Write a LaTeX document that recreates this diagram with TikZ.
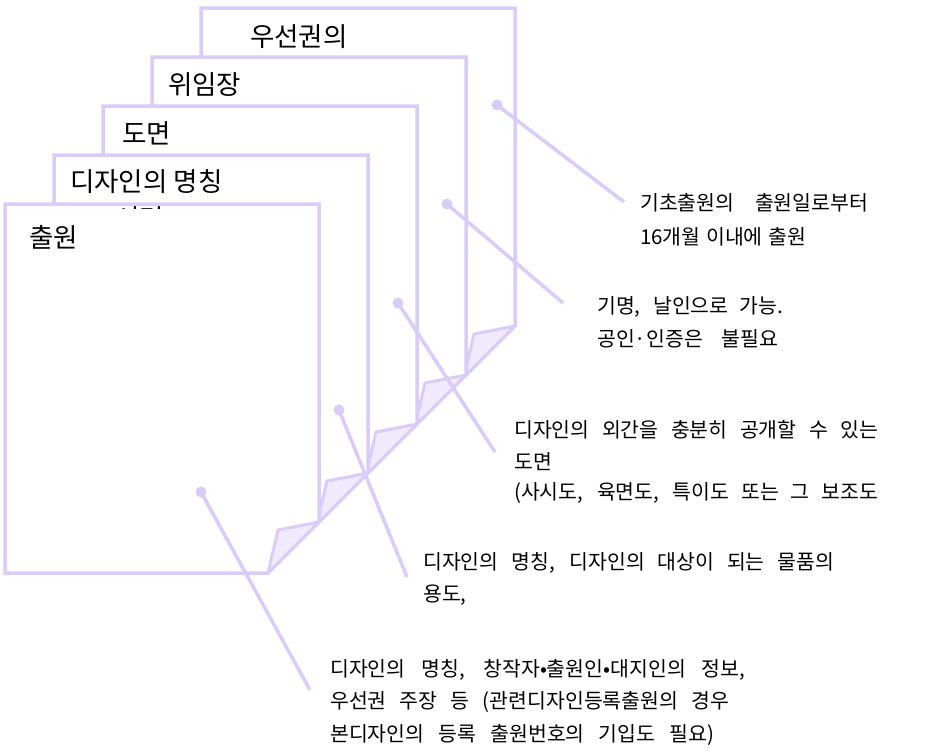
\documentclass[tikz,border=0pt]{standalone}
\usepackage{fontspec}
\setmainfont{Noto Sans CJK KR}
\definecolor{lav}{RGB}{218,204,248}
\definecolor{flapc}{RGB}{240,234,252}
\newcommand\docpage[2]{%
  \path[pagebox] (#1,#2) -- ++(314,0) -- ++(0,318) -- ++(-51,51) -- ++(-263,0) -- cycle;
  \path[flapbox] (#1+314,#2+318) -- ++(-41,8) -- ++(-10,43) -- cycle;
}
\newcommand\wl[2]{\makebox[#1pt][s]{#2}}
\begin{document}
\begin{tikzpicture}[x=1pt,y=-1pt,
  pagebox/.style={draw=lav,line width=3.5pt,fill=white,line join=miter},
  flapbox/.style={draw=lav,line width=3pt,fill=flapc,line join=round},
  callout/.style={draw=lav,line width=3.5pt},
  dotmark/.style={fill=lav},
  plabel/.style={anchor=base west,inner sep=0pt,font=\fontsize{26.5}{30}\selectfont},
  note/.style={anchor=base west,inner sep=0pt,font=\fontsize{20.5}{24}\selectfont}]
\useasboundingbox (0,0) rectangle (937,753);
\fill[white] (0,0) rectangle (937,753);

% pages, back to front
\docpage{201}{8}
\node[plabel] (p5) at (250,46) {우선권의};
\docpage{152}{57}
\node[plabel] (p4) at (168,94) {위임장};
\docpage{103}{106}
\node[plabel] (p3) at (122,143) {도면};
\docpage{54}{155}
\node[plabel] (p2) at (70,191) {디자인의 명칭};
\docpage{5}{204}
\node[plabel] (p1) at (29,247) {출원};
\begin{scope}
  \clip (110,206) rectangle (170,208.5);
  \node[plabel] (p2b) at (115,228.5) {서면};
\end{scope}

% callout notes
\node[note] (n1a) at (640,210) {\wl{228}{기초출원의 출원일로부터}};
\node[note] (n1b) at (640,244) {\wl{166}{16개월 이내에 출원}};
\node[note] (n2a) at (597,313) {\wl{186}{기명, 날인으로 가능.}};
\node[note] (n2b) at (597,346) {\wl{181}{공인·인증은 불필요}};
\node[note] (n3a) at (514,437) {\wl{364}{디자인의 외간을 충분히 공개할 수 있는}};
\node[note] (n3b) at (514,469) {도면};
\node[note] (n3c) at (514,499) {\wl{364}{(사시도, 육면도, 특이도 또는 그 보조도}};
\node[note] (n4a) at (423,569) {\wl{411}{디자인의 명칭, 디자인의 대상이 되는 물품의}};
\node[note] (n4b) at (423,601) {용도,};
\node[note] (n5a) at (330,676) {\wl{415}{디자인의 명칭, 창작자•출원인•대지인의 정보,}};
\node[note] (n5b) at (330,708) {\wl{399}{우선권 주장 등 (관련디자인등록출원의 경우}};
\node[note] (n5c) at (330,741) {\wl{384}{본디자인의 등록 출원번호의 기입도 필요)}};

% callout lines
\coordinate (d1) at (497,105); \coordinate (e1) at (624,202);
\coordinate (d2) at (447,204); \coordinate (e2) at (563,303);
\coordinate (d3) at (398,303); \coordinate (e3) at (495,452);
\coordinate (d4) at (339,410); \coordinate (e4) at (407,577);
\coordinate (d5) at (201,492); \coordinate (e5) at (310,690);
\foreach \i in {1,...,5}{
  \draw[callout] (d\i) -- (e\i);
  \fill[dotmark] (d\i) circle (5.5);
}
\end{tikzpicture}
\end{document}
